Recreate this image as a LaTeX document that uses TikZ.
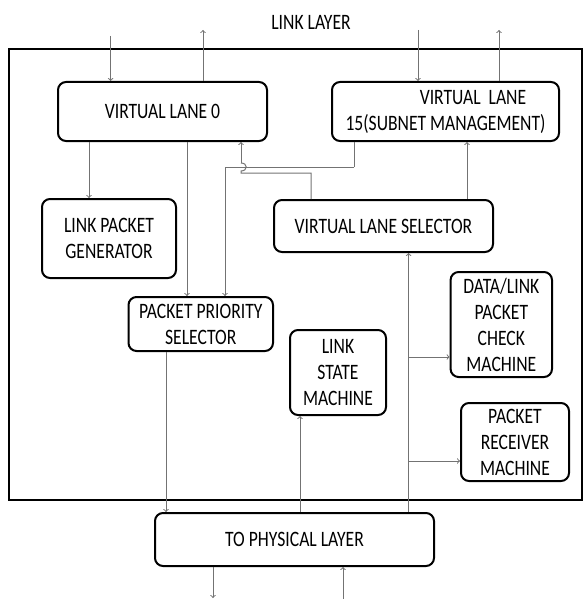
\documentclass[tikz,border=0pt]{standalone}
\usepackage{fontspec}
\setmainfont{Carlito}[FakeStretch=0.8]
\usetikzlibrary{calc}

\begin{document}
\begin{tikzpicture}[>=to, x=1pt, y=-1pt]

  \tikzstyle{block} = [draw, line width=2pt, rounded corners=8pt, fill=white, rectangle, align=center, inner sep=0pt, font={\fontsize{22}{26}\selectfont}];
  \tikzstyle{linkEdgePortion} = [black!55, line width=1pt];
  \tikzstyle{linkEdge} = [linkEdgePortion,->];

  \useasboundingbox (0,0) rectangle (584,599);

  % Link layer frame and its title
  \draw[line width=2.5pt] (9,49) rectangle (582,500);
  \node[name=title, font={\fontsize{22}{26}\selectfont}] at (311,22) {LINK LAYER};

  \node[block, name=laneZero, minimum width=209, minimum height=59] at (162.5,111.5) {VIRTUAL LANE 0};
  \node[block, name=laneFifteen, minimum width=227, minimum height=59] at (445.5,111.5) {\hspace*{2.5em}VIRTUAL\ \ LANE\\15(SUBNET MANAGEMENT)};
  \node[block, name=linkGen, minimum width=134, minimum height=79] at (109,238.5) {LINK PACKET\\GENERATOR};
  \node[block, name=laneSel, minimum width=219, minimum height=52] at (383.5,226) {VIRTUAL LANE SELECTOR};
  \node[block, name=prioSel, minimum width=144.5, minimum height=54] at (200.75,324) {PACKET PRIORITY\\SELECTOR};
  \node[block, name=linkState, minimum width=96, minimum height=85] at (338,372.5) {LINK\\STATE\\MACHINE};
  \node[block, name=checkMach, minimum width=101.4, minimum height=105] at (501.3,324.5) {DATA/LINK\\PACKET\\CHECK\\MACHINE};
  \node[block, name=recvMach, minimum width=108, minimum height=78] at (515,442) {PACKET\\RECEIVER\\MACHINE};
  \node[block, name=physLayer, minimum width=279, minimum height=53] at (294.5,539.5) {TO PHYSICAL LAYER};

  % Link layer feeds virtual lane 0, and lane 0 returns to the link layer
  \coordinate (laneZeroIn) at (110.6,36);
  \coordinate (laneZeroOut) at (203,30);
  \draw (laneZeroIn) edge[linkEdge] (laneZeroIn |- laneZero.north);
  \draw (laneZeroOut |- laneZero.north) edge[linkEdge] (laneZeroOut);

  % Link layer feeds virtual lane 15, and lane 15 returns to the link layer
  \coordinate (laneFifteenIn) at (418,30);
  \coordinate (laneFifteenOut) at (499,30);
  \draw (laneFifteenIn) edge[linkEdge] (laneFifteenIn |- laneFifteen.north);
  \draw (laneFifteenOut |- laneFifteen.north) edge[linkEdge] (laneFifteenOut);

  % Virtual lane 0 feeds the link packet generator and the priority selector
  \draw (89,0 |- laneZero.south) edge[linkEdge] (89,0 |- linkGen.north);
  \draw (187,0 |- laneZero.south) edge[linkEdge] (187,0 |- prioSel.north);

  % Virtual lane 15 also feeds the priority selector
  \coordinate (fifteenPrioA) at (354,167);
  \coordinate (fifteenPrioB) at (225,167);
  \draw (fifteenPrioA |- laneFifteen.south) edge[linkEdgePortion] (fifteenPrioA);
  \draw (fifteenPrioA) edge[linkEdgePortion] (fifteenPrioB);
  \draw (fifteenPrioB) edge[linkEdge] (fifteenPrioB |- prioSel.north);

  % Lane selector goes back to virtual lane 0, jumping over the lane 15 line
  \coordinate (selZeroA) at (311,173);
  \coordinate (selZeroB) at (241,173);
  \coordinate (selZeroC) at (241,163);
  \draw[linkEdgePortion] (selZeroA |- laneSel.north) -- (selZeroA) -- (selZeroB) -- (241,171)
    .. controls (248,171) and (248,163) .. (selZeroC);
  \draw (selZeroC) edge[linkEdge] (selZeroC |- laneZero.south);

  % Lane selector feeds virtual lane 15
  \draw (467,0 |- laneSel.north) edge[linkEdge] (467,0 |- laneFifteen.south);

  % Physical layer feeds the lane selector and both machines on the right
  \coordinate (physUp) at (408.6,0);
  \coordinate (checkBranch) at (408.6,357);
  \coordinate (recvBranch) at (408.6,461);
  \draw (physUp |- physLayer.north) edge[linkEdge] (physUp |- laneSel.south);
  \draw (checkBranch) edge[linkEdge] (checkBranch -| checkMach.west);
  \draw (recvBranch) edge[linkEdge] (recvBranch -| recvMach.west);

  % Physical layer feeds the link state machine
  \draw (300,0 |- physLayer.north) edge[linkEdge] (300,0 |- linkState.south);

  % Priority selector goes down to the physical layer
  \draw (166,0 |- prioSel.south) edge[linkEdge] (166,0 |- physLayer.north);

  % Physical layer in and out at the bottom
  \coordinate (physOut) at (213,598);
  \coordinate (physIn) at (343,599);
  \draw (physOut |- physLayer.south) edge[linkEdge] (physOut);
  \draw (physIn) edge[linkEdge] (physIn |- physLayer.south);

\end{tikzpicture}
\end{document}
